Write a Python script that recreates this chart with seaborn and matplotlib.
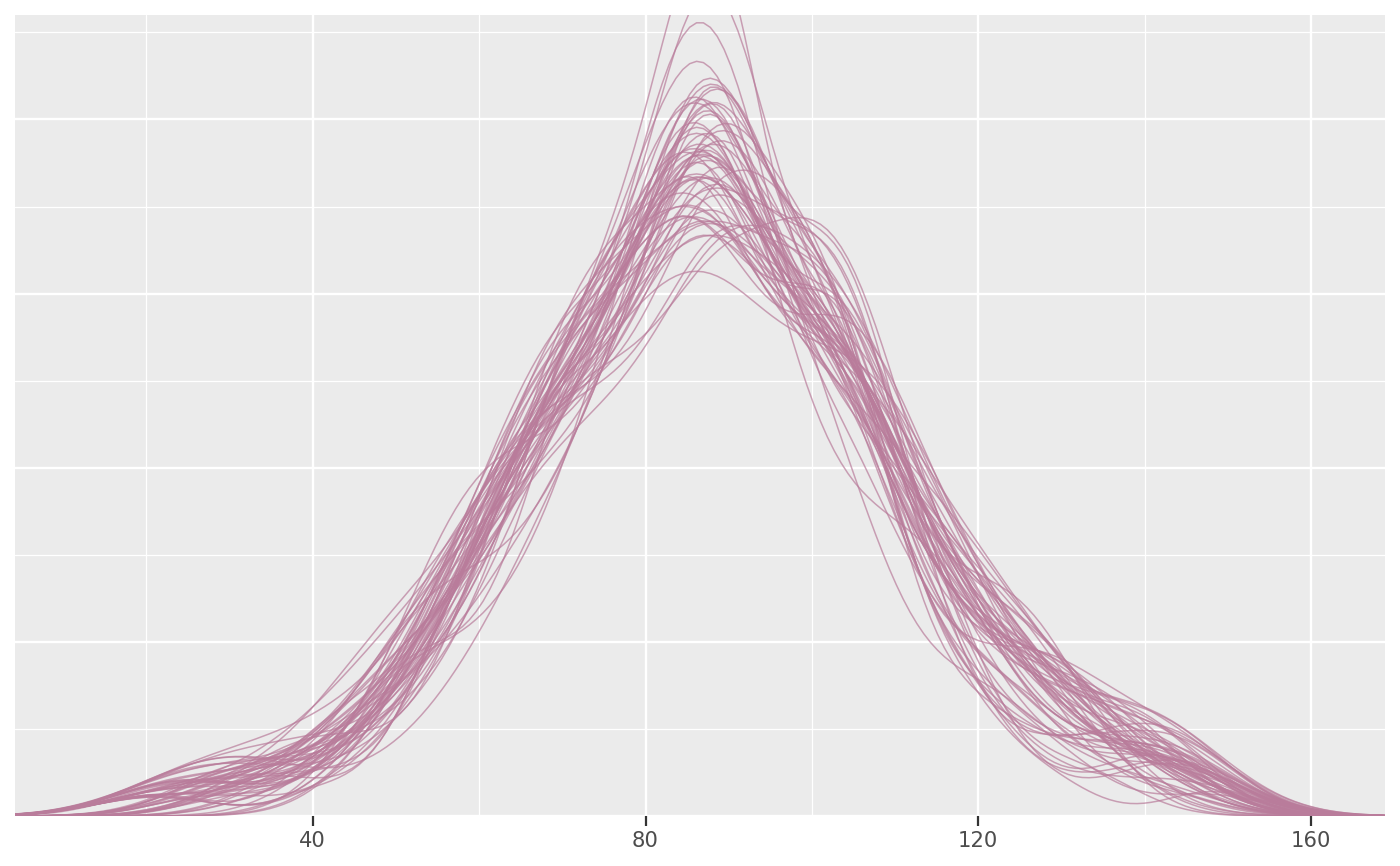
import numpy as np
import seaborn as sns
import matplotlib.pyplot as plt
from matplotlib.ticker import MultipleLocator

# observed values (estimated from the picture's spread)
obs = [90, 105, 71, 89, 58, 85, 117, 80, 93, 67, 102, 87, 126, 74, 102, 50, 82, 108, 91, 142,
       78, 88, 63, 112, 86, 72, 123, 92, 54, 84, 104, 69, 103, 32, 89, 114, 76, 101, 61, 94,
       81, 119, 73, 97, 46, 87, 107, 68, 93, 130, 79, 87, 57, 91, 111, 75, 102, 83, 65, 143,
       88, 70, 103, 60, 89, 116, 80, 101, 52, 85, 106, 72, 92, 124, 82, 21, 100, 64, 90, 109,
       74, 101, 84, 134, 67, 89, 56, 86, 113, 79, 98, 62, 91, 104, 71, 120, 81, 104, 48, 87,
       93, 65, 108, 83, 41, 90, 76, 115, 90, 59, 102, 73, 127, 85, 100, 69, 105, 80, 137, 89,
       86, 106, 68, 87, 122, 78, 53, 92, 103, 72, 87, 118, 63, 100, 82, 37, 102, 75, 111, 91,
       89, 79, 90, 129, 61, 85, 102, 70, 140, 93, 51, 89, 109, 74, 101, 81, 117, 67, 101, 84,
       80, 94, 57, 104, 87, 71, 125, 88, 64, 91, 107, 76, 28, 100, 83, 114, 69, 103, 45, 90,
       104, 75, 92, 62, 100, 85, 131, 73, 90, 112, 81, 56, 102, 89, 148, 70, 102, 86, 119, 79]
x_range = (4.2, 168.9)
n_draws = 60
x_ticks = [40, 80, 120, 160]

obs = np.array(obs)

sns.set_theme(style="darkgrid", rc={
    "axes.facecolor": "#EBEBEB",
    "grid.color": "white",
    "axes.edgecolor": "#EBEBEB",
})
plt.rcParams['font.family'] = ['DejaVu Sans']

fig = plt.figure(figsize=(7, 4.33), dpi=200)
ax = fig.add_axes([0.0107, 0.0577, 0.9786, 0.925])

idx = np.arange(len(obs))
for k in range(n_draws):
    # each draw keeps about half of the observations
    a = (idx * (k % 10 + 1) + k) % 11
    b = (idx * (k % 6 + 1) + 2 * k) % 7
    keep = (a + b) % 2 == 0
    sns.kdeplot(x=obs[keep], ax=ax, color="#b97c9b", lw=0.55, alpha=0.7,
                bw_adjust=0.8, cut=10, clip=x_range)

ax.set_xlim(*x_range)
ax.set_ylim(0, 0.0230)
ax.set_xticks(x_ticks)
ax.xaxis.set_minor_locator(MultipleLocator(20))
ax.yaxis.set_major_locator(MultipleLocator(0.005))
ax.yaxis.set_minor_locator(MultipleLocator(0.0025))
ax.grid(which="major", color="white", lw=0.85)
ax.grid(which="minor", color="white", lw=0.45)
ax.set_yticklabels([])
ax.tick_params(axis="y", length=0)
ax.tick_params(axis="x", which="major", length=3.5, width=0.8, color="#333333",
               labelsize=7.6, labelcolor="#4D4D4D", pad=2, bottom=True)
ax.tick_params(axis="x", which="minor", length=0)
ax.set_xlabel("")
ax.set_ylabel("")
for s in ax.spines.values():
    s.set_visible(False)

fig.savefig("out.png", dpi=200)
